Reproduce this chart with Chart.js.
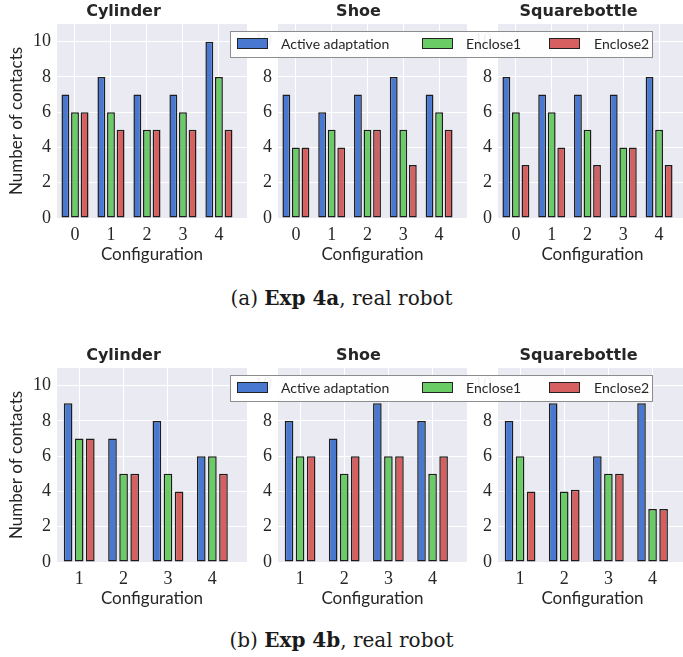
<!DOCTYPE html>
<html>
<head>
<meta charset="utf-8">
<script src="https://cdn.jsdelivr.net/npm/chart.js@4.4.1/dist/chart.umd.min.js"></script>
<style>
  html, body { margin: 0; padding: 0; background: #fff; overflow: hidden; }
  #fig { position: relative; width: 683px; height: 657px; overflow: hidden; }
  .cv { position: absolute; }
  .legend { position: absolute; left: 230px; width: 423px; height: 27px; box-sizing: border-box;
    background: rgba(255,255,255,0.93); border: 1px solid #8c8c8c; font-family: Lato; font-size: 14px; color: #262626; }
  .legend .sw { position: absolute; top: 6px; width: 31px; height: 11px; box-sizing: border-box; border: 1px solid #222; }
  .legend .lb { position: absolute; top: 3px; line-height: 18px; }
  .cap { position: absolute; left: 0; width: 683px; text-align: center; font-family: 'DejaVu Serif'; font-size: 20px; color: #1a1a1a; }
</style>
</head>
<body>
<div id="fig">
  <canvas id="c1" class="cv" style="left:0px;top:0px"></canvas>
  <canvas id="c2" class="cv" style="left:250px;top:0px"></canvas>
  <canvas id="c3" class="cv" style="left:470px;top:0px"></canvas>
  <canvas id="c4" class="cv" style="left:0px;top:344px"></canvas>
  <canvas id="c5" class="cv" style="left:250px;top:344px"></canvas>
  <canvas id="c6" class="cv" style="left:470px;top:344px"></canvas>

  <div class="legend" style="top:31px">
    <span class="sw" style="left:6px;background:#4878CF"></span><span class="lb" style="left:50px">Active adaptation</span>
    <span class="sw" style="left:191px;background:#6ACC65"></span><span class="lb" style="left:235px">Enclose1</span>
    <span class="sw" style="left:318px;background:#D65F5F"></span><span class="lb" style="left:363px">Enclose2</span>
  </div>
  <div class="legend" style="top:375px">
    <span class="sw" style="left:6px;background:#4878CF"></span><span class="lb" style="left:50px">Active adaptation</span>
    <span class="sw" style="left:191px;background:#6ACC65"></span><span class="lb" style="left:235px">Enclose1</span>
    <span class="sw" style="left:318px;background:#D65F5F"></span><span class="lb" style="left:363px">Enclose2</span>
  </div>

  <div class="cap" style="top:286px">(a) <b>Exp 4a</b>, real robot</div>
  <div class="cap" style="top:628px">(b) <b>Exp 4b</b>, real robot</div>
</div>

<script>
// configurations on the x axis
const configsA = [0, 1, 2, 3, 4];
const configsB = [1, 2, 3, 4];
const seriesNames = ['Active adaptation', 'Enclose1', 'Enclose2'];

// Exp 4a
const cylA_active = [7, 8, 7, 7, 10];
const cylA_enc1 = [6, 6, 5, 6, 8];
const cylA_enc2 = [6, 5, 5, 5, 5];
const shoeA_active = [7, 6, 7, 8, 7];
const shoeA_enc1 = [4, 5, 5, 5, 6];
const shoeA_enc2 = [4, 4, 5, 3, 5];
const sqA_active = [8, 7, 7, 7, 8];
const sqA_enc1 = [6, 6, 5, 4, 5];
const sqA_enc2 = [3, 4, 3, 4, 3];

// Exp 4b
const cylB_active = [9, 7, 8, 6];
const cylB_enc1 = [7, 5, 5, 6];
const cylB_enc2 = [7, 5, 4, 5];
const shoeB_active = [8, 7, 9, 8];
const shoeB_enc1 = [6, 5, 6, 5];
const shoeB_enc2 = [6, 6, 6, 6];
const sqB_active = [8, 9, 6, 9];
const sqB_enc1 = [6, 4, 5, 3];
const sqB_enc2 = [4, 4.1, 5, 3];

const colors = ['#4878CF', '#6ACC65', '#D65F5F'];

const plotBg = {
  id: 'plotBg',
  beforeDraw(chart) {
    const { ctx, chartArea: a } = chart;
    ctx.save();
    ctx.fillStyle = '#EAEAF2';
    ctx.fillRect(a.left, a.top, a.right - a.left, a.bottom - a.top);
    ctx.restore();
  },
};

function makeChart(id, title, configs, active, enc1, enc2, xMin, yWidth, width, showYTitle, catPct, barPct) {
  const canvas = document.getElementById(id);
  canvas.width = width;
  canvas.height = 270;
  canvas.style.width = width + 'px';
  canvas.style.height = '270px';

  const rows = [active, enc1, enc2];
  const datasets = rows.map((vals, k) => ({
    label: seriesNames[k],
    data: vals.map((v, i) => ({ x: configs[i], y: v })),
    backgroundColor: colors[k],
    borderColor: '#1c1c1c',
    borderWidth: 1.5,
    borderSkipped: false,
    categoryPercentage: catPct,
    barPercentage: barPct,
  }));

  const tickFont = { family: 'Liberation Serif', size: 18 };
  const labFont = { family: 'Lato', size: 17 };

  return new Chart(canvas, {
    type: 'bar',
    data: { datasets },
    plugins: [plotBg],
    options: {
      responsive: false,
      animation: false,
      layout: { padding: { left: 0, right: 3, top: 0, bottom: 0 } },
      plugins: {
        legend: { display: false },
        tooltip: { enabled: false },
        title: {
          display: true,
          text: title,
          color: '#262626',
          font: { family: 'DejaVu Sans', size: 16, weight: 'bold', lineHeight: 1.2 },
          padding: { top: 2, bottom: 2.8 },
        },
      },
      scales: {
        x: {
          type: 'linear',
          min: xMin,
          max: 4.78,
          offset: false,
          grid: { color: '#ffffff', lineWidth: 1, drawTicks: false, offset: false },
          border: { display: false },
          ticks: { stepSize: 1, includeBounds: false, font: tickFont, color: '#262626', padding: 6 },
          title: { display: true, text: 'Configuration', font: labFont, color: '#262626', padding: { top: 0, bottom: 5 } },
          afterFit: (s) => { s.height = 52; },
        },
        y: {
          min: 0,
          max: 11,
          grid: { color: '#ffffff', lineWidth: 1, drawTicks: false },
          border: { display: false },
          ticks: { stepSize: 2, includeBounds: false, font: tickFont, color: '#262626', padding: 6 },
          title: { display: showYTitle, text: 'Number of contacts', font: labFont, color: '#262626', padding: { top: 6, bottom: 0 } },
          afterFit: (s) => { s.width = yWidth; },
        },
      },
    },
  });
}

makeChart('c1', 'Cylinder', configsA, cylA_active, cylA_enc1, cylA_enc2, -0.5, 57, 250, true, 0.8, 0.82);
makeChart('c2', 'Shoe', configsA, shoeA_active, shoeA_enc1, shoeA_enc2, -0.5, 28, 220, false, 0.8, 0.82);
makeChart('c3', 'Squarebottle', configsA, sqA_active, sqA_enc1, sqA_enc2, -0.5, 28, 220, false, 0.8, 0.82);
makeChart('c4', 'Cylinder', configsB, cylB_active, cylB_enc1, cylB_enc2, 0.5, 57, 250, true, 0.75, 0.78);
makeChart('c5', 'Shoe', configsB, shoeB_active, shoeB_enc1, shoeB_enc2, 0.5, 28, 220, false, 0.75, 0.78);
makeChart('c6', 'Squarebottle', configsB, sqB_active, sqB_enc1, sqB_enc2, 0.5, 28, 220, false, 0.75, 0.78);
</script>
</body>
</html>
